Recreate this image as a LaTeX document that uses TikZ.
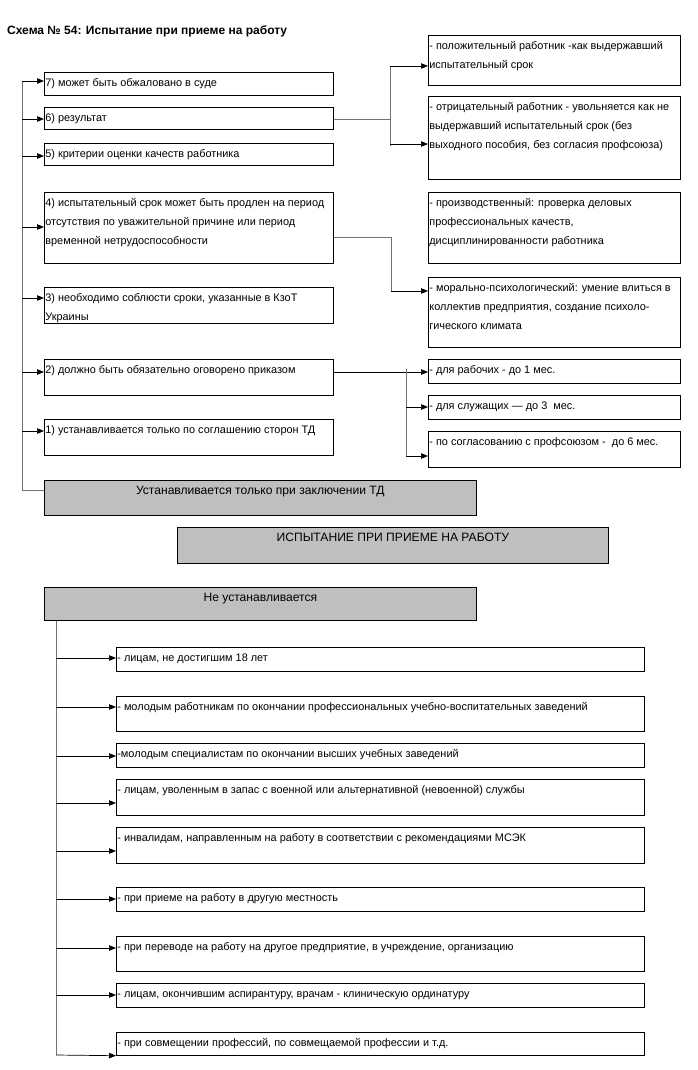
\documentclass[tikz,border=0pt]{standalone}
\usepackage{fontspec}
\setmainfont{Liberation Sans}
\usetikzlibrary{
  arrows.meta,  % Triangle arrow tips
  positioning   % relative placement
}
% text in a framed cell: fixed width and height, set from the top
\newcommand{\cell}[3]{\parbox[c][#2][t]{#1}{\leftskip=1pt\rightskip=0pt plus 1fil\rule{0pt}{14.5pt}#3}}
% text in a grey cell: centred, near the top
\newcommand{\gcell}[3]{\parbox[c][#2][t]{#1}{\centering\rule{0pt}{14pt}#3}}
\tikzset{
  box/.style={
    draw=black,
    line width=0.7pt,
    anchor=north west,
    inner sep=0pt,
    font=\fontsize{10.9}{19}\selectfont
  },
  graybox/.style={
    box,
    fill=gray!50,
    font=\fontsize{12.1}{19}\selectfont
  },
  title/.style={
    font=\bfseries\fontsize{12}{14}\selectfont,
    inner sep=0pt
  },
  arr/.style={
    -{Triangle[length=7pt,width=5.5pt]},
    line width=0.7pt,
    color=black
  },
  trunk/.style={
    -,
    line width=0.8pt,
    color=black!55
  }
}

\begin{document}
\begin{tikzpicture}[x=1pt, y=-1pt]
  \useasboundingbox (0,0) rectangle (698,1070);

  % ======================= заголовок =======================
  \node[title, anchor=west] (head) at (7,31) {Схема № 54: Испытание при приеме на работу};

  % ======================= левый столбец (1)--(7) =======================
  \node[box] (p7) at (44,72)  {\cell{289pt}{23pt}{7) может быть обжаловано в суде}};
  \node[box] (p6) at (44,107) {\cell{289pt}{22pt}{6) результат}};
  \node[box] (p5) at (44,143) {\cell{289pt}{22pt}{5) критерии оценки качеств работника}};
  \node[box] (p4) at (44,192) {\cell{289pt}{71pt}{4) испытательный срок может быть продлен на период\\
    отсутствия по уважительной причине или период\\ временной нетрудоспособности}};
  \node[box] (p3) at (44,287) {\cell{289pt}{36pt}{3) необходимо соблюсти сроки, указанные в КзоТ\\ Украины}};
  \node[box] (p2) at (44,359) {\cell{289pt}{36pt}{2) должно быть обязательно оговорено приказом}};
  \node[box] (p1) at (44,419) {\cell{289pt}{36pt}{1) устанавливается только по соглашению сторон ТД}};

  % ======================= правый столбец =======================
  \node[box] (pos)   at (428,35)  {\cell{252pt}{50pt}{- положительный работник -как выдержавший\\ испытательный срок}};
  \node[box] (neg)   at (428,96)  {\cell{252pt}{83pt}{- отрицательный работник - увольняется как не\\
    выдержавший испытательный срок (без\\ выходного пособия, без согласия профсоюза)}};
  \node[box] (prod)  at (428,192) {\cell{252pt}{71pt}{- производственный: проверка деловых\\
    профессиональных качеств,\\ дисциплинированности работника}};
  \node[box] (moral) at (428,277) {\cell{252pt}{70pt}{- морально-психологический: умение влиться в\\
    коллектив предприятия, создание психоло-\\ гического климата}};
  \node[box] (work1) at (428,359) {\cell{252pt}{24pt}{- для рабочих - до 1 мес.}};
  \node[box] (work3) at (428,395) {\cell{252pt}{24pt}{- для служащих — до 3~ мес.}};
  \node[box] (work6) at (428,431) {\cell{252pt}{36pt}{- по согласованию с профсоюзом -~ до 6 мес.}};

  % ======================= серые блоки =======================
  \node[graybox] (only)   at (44,480)  {\gcell{432pt}{35pt}{Устанавливается только при заключении ТД}};
  \node[graybox] (main)   at (177,527) {\gcell{431pt}{36pt}{ИСПЫТАНИЕ ПРИ ПРИЕМЕ НА РАБОТУ}};
  \node[graybox] (notset) at (44,587)  {\gcell{432pt}{33pt}{Не устанавливается}};

  % ======================= нижний список =======================
  \foreach \n/\y/\h/\t in {
      n1/647/24/{- лицам, не достигшим 18 лет},
      n2/696/35/{- молодым работникам по окончании профессиональных учебно-воспитательных заведений},
      n3/743/24/{-молодым специалистам по окончании высших учебных заведений},
      n4/779/36/{- лицам, уволенным в запас с военной или альтернативной (невоенной) службы},
      n5/827/36/{- инвалидам, направленным на работу в соответствии с рекомендациями МСЭК},
      n6/887/24/{- при приеме на работу в другую местность},
      n7/936/35/{- при переводе на работу на другое предприятие, в учреждение, организацию},
      n8/983/24/{- лицам, окончившим аспирантуру, врачам - клиническую ординатуру},
      n9/1032/23/{- при совмещении профессий, по совмещаемой профессии и т.д.}}
    \node[box] (\n) at (116,\y) {\cell{528pt}{\h pt}{\t}};

  % ======================= связи: левый столбец =======================
  \coordinate (trunkL) at (22,81);
  \draw[trunk] (trunkL) |- (only.west |- 0,490);
  \foreach \n/\y in {p7/81, p6/119, p5/156, p4/227, p3/298, p2/372, p1/431}
    \draw[arr] (trunkL |- 0,\y) -- (\n.west |- 0,\y);

  % 6) результат
  \coordinate (fork6) at (390,119);
  \draw[trunk] (p6.east |- fork6) -- (fork6);
  \draw[trunk] (fork6 |- 0,66) -- (fork6 |- 0,146);
  \draw[arr] (fork6 |- 0,66) -- (pos.west |- 0,66);
  \draw[arr] (fork6 |- 0,144) -- (neg.west |- 0,144);

  % 4) испытательный срок
  \coordinate (fork4) at (391,237);
  \draw[trunk] (p4.east |- fork4) -- (fork4) -- (fork4 |- 0,291);
  \draw[arr] (fork4 |- 0,291) -- (moral.west |- 0,291);

  % 2) оговорено приказом
  \coordinate (fork2) at (406,372);
  \draw[arr] (p2.east |- fork2) -- (work1.west |- fork2);
  \draw[trunk] (fork2 |- 0,369) -- (fork2 |- 0,456);
  \draw[arr] (fork2 |- 0,407) -- (work3.west |- 0,407);
  \draw[arr] (fork2 |- 0,456) -- (work6.west |- 0,456);

  % ======================= связи: нижний список =======================
  \coordinate (trunkB) at (56,620);
  \draw[trunk] (notset.south -| trunkB) -- (trunkB |- 0,1055);
  \foreach \n/\y in {n1/658, n2/707, n3/756, n4/803, n5/851, n6/899, n7/948, n8/995}
    \draw[arr] (trunkB |- 0,\y) -- (\n.west |- 0,\y);
  \draw[arr] (trunkB |- 0,1055) -- (n9.south west);

\end{tikzpicture}
\end{document}
